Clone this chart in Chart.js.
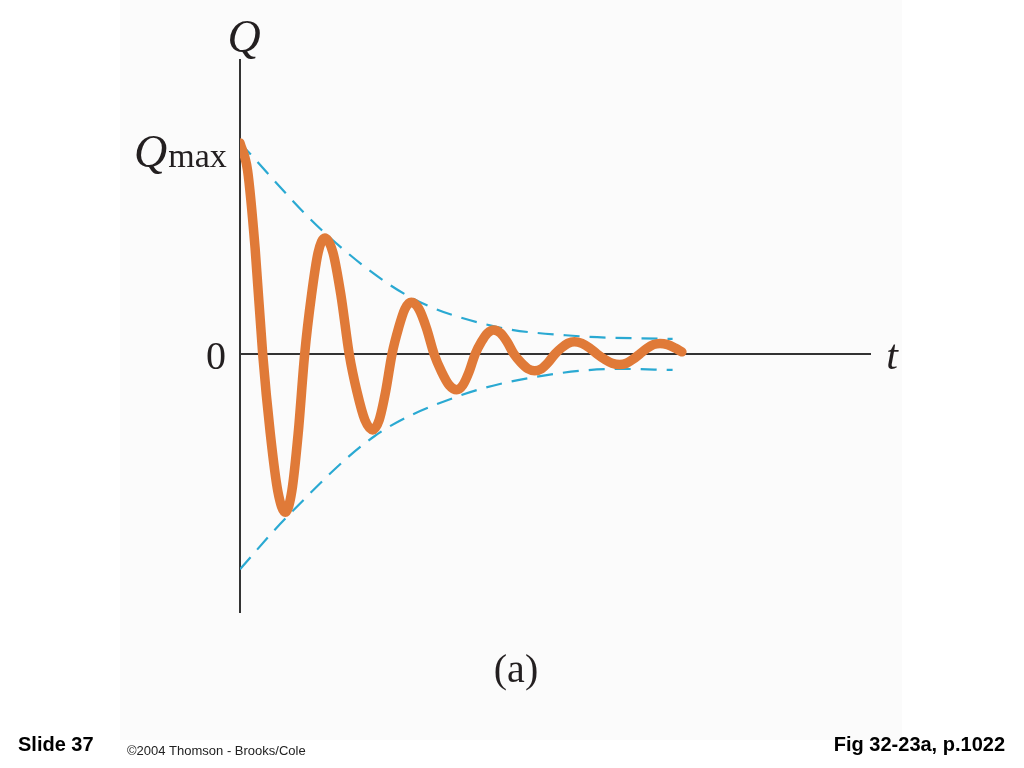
<!DOCTYPE html>
<html>
<head>
<meta charset="utf-8">
<script src="https://cdn.jsdelivr.net/npm/chart.js@4/dist/chart.umd.min.js"></script>
<style>
  html, body { margin: 0; padding: 0; background: #fff; }
  #wrap { position: relative; width: 1024px; height: 768px; }
</style>
</head>
<body>
<div id="wrap"><canvas id="dampedChart" width="1024" height="768"></canvas></div>
<script>
// charge Q (in units of Qmax) against time t
var curveT = [0, 0.09, 0.18, 0.27, 0.36, 0.45, 0.54, 0.617, 0.693, 0.77, 0.85, 0.93, 1.01,
              1.107, 1.203, 1.30, 1.393, 1.487, 1.58, 1.657, 1.733, 1.81, 1.887, 1.963, 2.04,
              2.13, 2.22, 2.31, 2.40, 2.49, 2.58, 2.653, 2.727, 2.80, 2.873, 2.947, 3.02,
              3.10, 3.18, 3.26, 3.343, 3.427, 3.51, 3.59, 3.67, 3.75, 3.827, 3.903, 3.98,
              4.07, 4.16, 4.25, 4.34, 4.43, 4.52, 4.60, 4.68, 4.76, 4.84, 4.92, 5.0,
              5.09, 5.18, 5.26];
var curveQ = [1.0, 0.87, 0.5, 0, -0.375, -0.65, -0.75, -0.65, -0.375, 0, 0.275, 0.48, 0.55,
              0.48, 0.275, 0, -0.18, -0.313, -0.36, -0.313, -0.18, 0, 0.122, 0.213, 0.245,
              0.213, 0.122, 0, -0.085, -0.148, -0.17, -0.148, -0.085, 0, 0.057, 0.099, 0.114,
              0.099, 0.057, 0, -0.04, -0.07, -0.08, -0.07, -0.04, 0, 0.029, 0.05, 0.058,
              0.05, 0.029, 0, -0.025, -0.044, -0.05, -0.044, -0.025, 0, 0.025, 0.044, 0.05,
              0.044, 0.028, 0.01];

// dashed envelope
var upperT = [0, 1.01, 2.0, 3.0, 4.0, 5.15];
var upperQ = [1.0, 0.573, 0.275, 0.133, 0.085, 0.071];
var lowerT = [0, 0.54, 1.6, 2.6, 3.5, 4.5, 5.15];
var lowerQ = [-1.02, -0.78, -0.39, -0.2, -0.11, -0.071, -0.076];

var axisLabels = { y: 'Q', x: 't', zero: '0', max: 'Q', maxSub: 'max', caption: '(a)' };

function pts(xs, ys) {
    return xs.map(function (x, i) { return { x: x, y: ys[i] }; });
}

var textPlugin = {
    id: 'figText',
    beforeDraw: function (chart) {
        var ctx = chart.ctx;
        ctx.save();
        ctx.fillStyle = '#fbfbfb';
        ctx.fillRect(120, 0, 782, 740);
        ctx.restore();
    },
    afterDraw: function (chart) {
        var ctx = chart.ctx;
        var xs = chart.scales.x, ys = chart.scales.y;
        var x0 = xs.getPixelForValue(0);
        ctx.save();
        ctx.fillStyle = '#231f20';
        ctx.textBaseline = 'alphabetic';
        // Q at top of vertical axis
        ctx.font = 'italic 46px "Liberation Serif"';
        ctx.textAlign = 'center';
        ctx.fillText(axisLabels.y, x0 + 4, 52);
        // Qmax
        var yMax = ys.getPixelForValue(1);
        ctx.textAlign = 'left';
        ctx.font = 'italic 46px "Liberation Serif"';
        ctx.fillText(axisLabels.max, 134, yMax + 24);
        var qw = ctx.measureText(axisLabels.max).width;
        ctx.font = '34px "Liberation Serif"';
        ctx.fillText(axisLabels.maxSub, 134 + qw + 1, yMax + 24);
        // 0
        var yZero = ys.getPixelForValue(0);
        ctx.font = '40px "Liberation Serif"';
        ctx.textAlign = 'center';
        ctx.fillText(axisLabels.zero, 216, yZero + 15);
        // t
        ctx.font = 'italic 42px "Liberation Serif"';
        ctx.fillText(axisLabels.x, 892, yZero + 15);
        // caption
        ctx.font = '40px "Liberation Serif"';
        ctx.fillText(axisLabels.caption, 516, 682);
        // footer
        ctx.fillStyle = '#000';
        ctx.textAlign = 'left';
        ctx.font = 'bold 20px "Liberation Sans"';
        ctx.fillText('Slide 37', 18, 751);
        ctx.font = '13px "Liberation Sans"';
        ctx.fillStyle = '#222';
        ctx.fillText('\u00a92004 Thomson - Brooks/Cole', 127, 755);
        ctx.fillStyle = '#000';
        ctx.textAlign = 'right';
        ctx.font = 'bold 20px "Liberation Sans"';
        ctx.fillText('Fig 32-23a, p.1022', 1005, 751);
        ctx.restore();
    }
};

var chart = new Chart(document.getElementById('dampedChart'), {
    type: 'scatter',
    data: {
        datasets: [{
            data: pts(curveT, curveQ),
            showLine: true,
            borderColor: '#e07a38',
            borderWidth: 9.5,
            pointRadius: 0,
            cubicInterpolationMode: 'monotone',
            borderCapStyle: 'round',
            borderJoinStyle: 'round',
            order: 1
        }, {
            data: pts(upperT, upperQ),
            showLine: true,
            borderColor: '#2aa9d2',
            borderWidth: 2.2,
            borderDash: [16, 10],
            pointRadius: 0,
            cubicInterpolationMode: 'monotone',
            order: 2
        }, {
            data: pts(lowerT, lowerQ),
            showLine: true,
            borderColor: '#2aa9d2',
            borderWidth: 2.2,
            borderDash: [16, 10],
            pointRadius: 0,
            cubicInterpolationMode: 'monotone',
            order: 2
        }]
    },
    options: {
        responsive: false,
        animation: false,
        layout: { padding: { left: 240, right: 154, top: 60, bottom: 156 } },
        plugins: { legend: { display: false }, tooltip: { enabled: false } },
        scales: {
            x: {
                type: 'linear', min: 0, max: 7.5,
                position: { y: 0 },
                grid: { display: false, drawTicks: false },
                border: { color: '#333', width: 2 },
                ticks: { display: false }
            },
            y: {
                type: 'linear', min: -1.223, max: 1.393,
                grid: { display: false, drawTicks: false },
                border: { color: '#333', width: 2 },
                ticks: { display: false }
            }
        }
    },
    plugins: [textPlugin]
});
</script>
</body>
</html>
